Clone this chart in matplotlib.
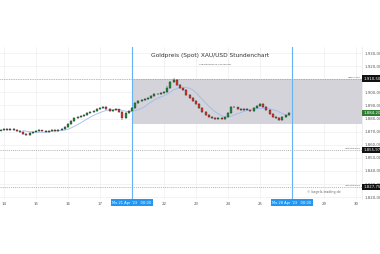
import numpy as np
import pandas as pd
import matplotlib
matplotlib.use("Agg")
import matplotlib.pyplot as plt
from matplotlib.patches import Rectangle

# hourly-ish candle closes (USD), one every 0.1 day starting at day index -0.1
closes = [
    1871.2, 1872.0, 1871.2, 1872.0, 1871.2, 1870.5, 1869.7, 1868.2, 1867.4, 1868.9,
    1869.7, 1870.5, 1871.2, 1870.5, 1869.7, 1870.5, 1871.2, 1870.5, 1871.2, 1872.0,
    1873.5, 1875.8, 1878.1, 1880.4, 1881.1, 1881.9, 1882.7, 1884.2, 1885.0, 1885.7,
    1887.3, 1888.0, 1888.8, 1887.3, 1885.7, 1886.5, 1886.9, 1885.0, 1880.4, 1884.2,
    1885.7, 1888.0, 1891.8, 1893.4, 1894.1, 1894.9, 1895.6, 1897.2, 1898.7, 1898.4,
    1899.5, 1900.2, 1903.3, 1907.9, 1909.4, 1905.6, 1903.3, 1901.8, 1897.9, 1895.6,
    1893.4, 1891.1, 1888.0, 1885.0, 1882.7, 1881.1, 1880.4, 1879.6, 1880.4, 1879.6,
    1881.1, 1884.2, 1888.8, 1888.5, 1887.3, 1886.5, 1887.3, 1886.5, 1885.7, 1888.0,
    1889.5, 1891.1, 1888.8, 1886.5, 1883.4, 1881.1, 1880.4, 1878.9, 1881.1, 1882.7,
    1884.2,
]
first_open = 1870.6
wick_up = [
    0.6, 0.8, 0.5, 0.7, 0.4, 0.6, 0.5, 0.8, 0.6, 0.9, 0.5, 0.6, 0.7, 0.4, 0.6, 0.5,
    0.7, 0.5, 0.6, 0.8, 0.9, 1.0, 0.8, 0.7, 0.9, 0.6, 0.8, 0.7, 0.6, 0.9, 0.7, 0.8,
    1.0, 0.6, 0.7, 0.5, 0.8, 0.6, 0.9, 0.7, 0.6, 0.8, 1.1, 0.7, 0.6, 0.8, 0.7, 0.9,
    0.6, 0.7, 0.8, 0.9, 1.2, 1.0, 1.4, 0.9, 0.8, 0.7, 0.9, 0.6, 0.8, 0.7, 0.6, 0.8,
    0.7, 0.5, 0.6, 0.8, 0.7, 0.6, 0.9, 1.0, 1.1, 0.8, 0.6, 0.7, 0.8, 0.6, 0.7, 0.9,
    0.8, 1.0, 0.7, 0.6, 0.8, 0.7, 0.6, 0.7, 0.8, 0.9, 1.0,
]
wick_dn = [
    0.5, 0.6, 0.7, 0.5, 0.6, 0.8, 0.7, 0.9, 1.0, 0.6, 0.5, 0.7, 0.6, 0.8, 0.9, 0.5,
    0.6, 0.7, 0.5, 0.6, 0.7, 0.6, 0.8, 0.7, 0.6, 0.8, 0.6, 0.7, 0.5, 0.6, 0.8, 0.7,
    0.6, 0.9, 0.8, 0.6, 0.7, 0.9, 1.3, 0.8, 0.6, 0.7, 0.6, 0.8, 0.7, 0.6, 0.7, 0.8,
    0.6, 0.7, 0.6, 0.7, 0.8, 0.9, 0.7, 1.0, 0.9, 0.8, 1.0, 0.8, 0.9, 0.7, 0.8, 0.9,
    0.8, 0.7, 0.9, 0.8, 0.7, 0.9, 0.6, 0.7, 0.8, 0.7, 0.8, 0.6, 0.7, 0.8, 0.9, 0.6,
    0.7, 0.6, 0.8, 0.9, 0.8, 0.7, 0.9, 1.0, 0.7, 0.6, 0.7,
]
x_start = -0.1
x_step = 0.1
ma_window = 8

resistance = 1910.5
support_1 = 1855.975
support_2 = 1827.75
box_bottom = 1875.8

y_ticks = [1820, 1830, 1840, 1850, 1860, 1870, 1880, 1890, 1900, 1910, 1920, 1930]
x_tick_pos = [0, 1, 2, 3, 5, 6, 7, 8, 10, 11]
x_tick_labels = ["14", "15", "16", "17", "22", "23", "24", "25", "29", "30"]
marker_pos = [4, 9]
marker_labels = ["Mo 21 Apr '23   00:00", "Mo 28 Apr '23   00:00"]


def de_fmt(v):
    s = f"{v:,.3f}"
    return s.replace(",", "X").replace(".", ",").replace("X", ".")


def main():
    closes_a = np.array(closes)
    opens_a = np.concatenate([[first_open], closes_a[:-1]])
    xs = x_start + x_step * np.arange(len(closes_a))
    highs = np.maximum(opens_a, closes_a) + np.array(wick_up)
    lows = np.minimum(opens_a, closes_a) - np.array(wick_dn)
    ma = pd.Series(closes_a).rolling(ma_window).mean()

    fig = plt.figure(figsize=(3.8, 2.54), dpi=100)
    ax = fig.add_axes([0.0, 1 - 199 / 254, 362 / 380, (199 - 47) / 254])
    ax.set_xlim(-0.125, 11.19)
    ax.set_ylim(1818.55, 1934.6)

    # grid
    for d in range(0, 12):
        ax.axvline(d, color="#efeff2", lw=0.5, zorder=0)
    for t in y_ticks:
        ax.axhline(t, color="#efeff2", lw=0.5, zorder=0)

    # gray zone
    ax.add_patch(Rectangle((marker_pos[0], box_bottom), 11.19 - marker_pos[0],
                           resistance - box_bottom, facecolor="#d3d3d9",
                           edgecolor="none", zorder=1))

    # horizontal levels
    ax.axhline(resistance, color="#8a8a8a", lw=0.5, ls=(0, (1, 1.5)), zorder=2)
    ax.axhline(support_1, color="#9a9a9a", lw=0.5, ls=(0, (1.5, 1.5)), zorder=2)
    ax.axhline(support_2, color="#9a9a9a", lw=0.5, ls=(0, (1.5, 1.5)), zorder=2)

    # markers
    for p in marker_pos:
        ax.axvline(p, color="#66b2f5", lw=0.8, zorder=3)

    # candles
    for x, o, c, h, l in zip(xs, opens_a, closes_a, highs, lows):
        col = "#1f8a3a" if c >= o else "#d9342b"
        ax.vlines(x, l, h, color="#333333", lw=0.35, zorder=4)
        ax.add_patch(Rectangle((x - 0.032, min(o, c)), 0.064, max(abs(c - o), 0.15),
                               facecolor=col, edgecolor="#222222", lw=0.2, zorder=5))
    ax.plot(xs, ma, color="#9bbcf2", lw=0.6, zorder=4)

    # axes styling
    for s in ["top", "left", "bottom"]:
        ax.spines[s].set_visible(False)
    ax.spines["right"].set_color("#e6e6e6")
    ax.spines["right"].set_linewidth(0.5)
    ax.yaxis.tick_right()
    ax.set_yticks(y_ticks)
    ax.set_yticklabels([de_fmt(t) for t in y_ticks])
    ax.tick_params(axis="y", length=0, pad=2, labelsize=2.8, labelcolor="#555555")
    ax.set_xticks(x_tick_pos)
    ax.set_xticklabels(x_tick_labels)
    ax.tick_params(axis="x", length=0, pad=2, labelsize=2.8, labelcolor="#555555")

    # value boxes on the price axis
    ytr = ax.get_yaxis_transform()
    for v in [resistance, support_1, support_2]:
        ax.text(1.004, v, de_fmt(v), transform=ytr, fontsize=2.8, color="white",
                va="center", ha="left", clip_on=False, zorder=10,
                bbox=dict(facecolor="#111111", edgecolor="none", pad=0.8))
    ax.text(1.004, closes_a[-1], de_fmt(closes_a[-1]), transform=ytr, fontsize=2.8,
            color="white", va="center", ha="left", clip_on=False, zorder=10,
            bbox=dict(facecolor="#2e7d32", edgecolor="none", pad=0.8))

    # level names
    ax.text(0.995, resistance + 0.7, "Widerstand", transform=ytr, fontsize=1.6,
            color="#555555", ha="right", va="bottom")
    ax.text(0.995, support_1 + 0.7, "Unterstützung", transform=ytr, fontsize=1.6,
            color="#555555", ha="right", va="bottom")
    ax.text(0.995, support_2 + 0.7, "Unterstützung", transform=ytr, fontsize=1.6,
            color="#555555", ha="right", va="bottom")

    # date boxes
    xtr = ax.get_xaxis_transform()
    for p, lab in zip(marker_pos, marker_labels):
        ax.text(p, -0.025, lab, transform=xtr, fontsize=2.6, color="white",
                ha="center", va="center", clip_on=False, zorder=10,
                bbox=dict(facecolor="#2196f3", edgecolor="none", pad=1.0))

    # titles
    fig.text(210 / 380, 1 - 56 / 254, "Goldpreis (Spot) XAU/USD Stundenchart",
             fontsize=4.2, color="#333333", ha="center", va="center")
    fig.text(215 / 380, 1 - 64 / 254, "Logarithmische Skalierung",
             fontsize=1.7, color="#555555", ha="center", va="center")
    ax.text(0.94, 0.03, "© kagels-trading.de", transform=ax.transAxes, fontsize=2.4,
            color="#666666", ha="right", va="bottom")

    fig.savefig("out.png", dpi=100)


if __name__ == "__main__":
    main()
